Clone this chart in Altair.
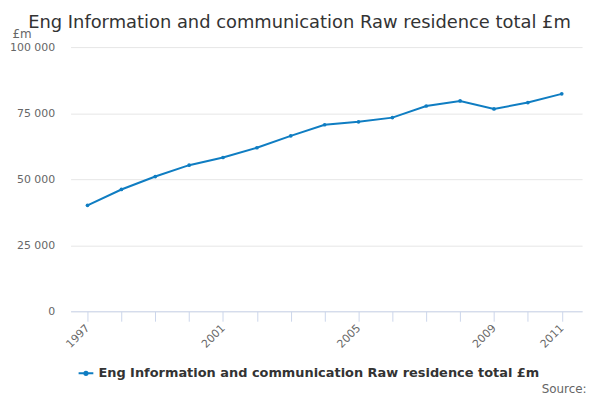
import altair as alt
import pandas as pd

years = list(range(1997, 2012))
values = [40100, 46100, 51000, 55300, 58200, 61900, 66400, 70600, 71700, 73300,
          77700, 79600, 76600, 79000, 82300]
series_name = "Eng Information and communication Raw residence total £m"
shown_years = [1997, 2001, 2005, 2009, 2011]
y_ticks = [0, 25000, 50000, 75000, 100000]

df = pd.DataFrame({"year": years, "value": values, "series": series_name})

LINE = "#0f7dc2"

chart = alt.Chart(df).mark_line(
    strokeWidth=2,
    point=alt.OverlayMarkDef(filled=True, size=14, color=LINE),
).encode(
    x=alt.X(
        "year:Q",
        scale=alt.Scale(domain=[1996.5, 2011.6], nice=False, zero=False),
        axis=alt.Axis(
            values=years,
            labelExpr="indexof([" + ",".join(str(y) for y in shown_years) + "], datum.value) >= 0 ? datum.label : ''",
            format="d",
            labelAngle=-45,
            labelAlign="right",
            labelBaseline="middle",
            labelFontSize=11,
            labelColor="#666666",
            labelFont="DejaVu Sans",
            labelPadding=5,
            tickColor="#ccd6eb",
            tickSize=10,
            domainColor="#ccd6eb",
            grid=False,
            title="Source:",
            titleX=519,
            titleY=82,
            titleAlign="right",
            titleBaseline="alphabetic",
            titleFont="DejaVu Sans",
            titleFontSize=12,
            titleFontWeight="normal",
            titleColor="#666666",
            labelOverlap=False,
        ),
    ),
    y=alt.Y(
        "value:Q",
        scale=alt.Scale(domain=[0, 100000], nice=False),
        axis=alt.Axis(
            values=y_ticks,
            labelExpr="replace(format(datum.value, ','), ',', ' ')",
            labelFontSize=11,
            labelColor="#666666",
            labelFont="DejaVu Sans",
            labelPadding=16,
            ticks=False,
            domain=False,
            gridColor="#e6e6e6",
            title="£m",
            titleAngle=0,
            titleX=-59,
            titleY=-14,
            titleAlign="left",
            titleBaseline="middle",
            titleFont="DejaVu Sans",
            titleFontSize=12,
            titleFontWeight="normal",
            titleColor="#666666",
        ),
    ),
    color=alt.Color(
        "series:N",
        scale=alt.Scale(range=[LINE]),
        legend=alt.Legend(
            title=None,
            orient="none",
            legendX=7,
            legendY=320,
            symbolType="M-1,0L1,0M-0.22,0a0.22,0.22 0 1,0 0.44,0a0.22,0.22 0 1,0 -0.44,0",
            symbolSize=220,
            symbolStrokeWidth=2,
            symbolFillColor=LINE,
            symbolStrokeColor=LINE,
            labelFont="DejaVu Sans",
            labelFontSize=13,
            labelFontWeight="bold",
            labelColor="#333333",
            labelLimit=600,
        ),
    ),
).properties(
    width=515,
    height=266,
    title=alt.TitleParams(
        series_name,
        anchor="middle",
        dx=-27,
        font="DejaVu Sans",
        fontSize=18,
        fontWeight="normal",
        color="#333333",
        offset=-5,
    ),
    autosize=alt.AutoSizeParams(type="none"),
    padding={"left": 63, "top": 38, "right": 10, "bottom": 90},
).configure_view(stroke=None)

chart.save("out.html", embed_options={"renderer": "svg", "actions": False})
